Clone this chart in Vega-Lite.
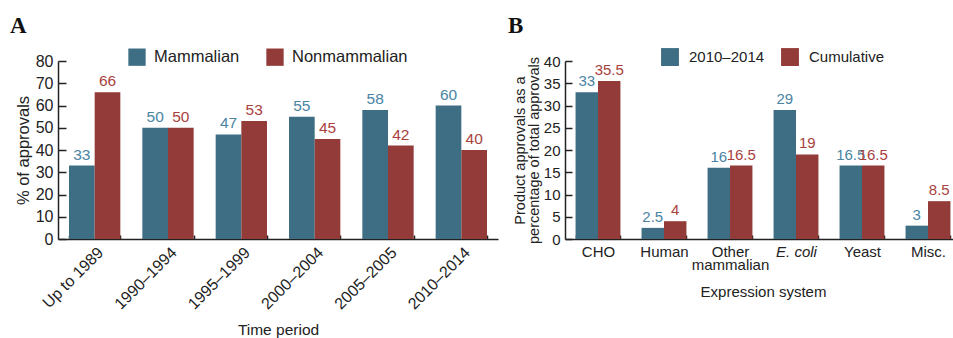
{
  "$schema": "https://vega.github.io/schema/vega-lite/v6.json",
  "background": "white",
  "padding": {"left": 10, "top": 15, "right": 0, "bottom": 0},
  "spacing": 10,
  "config": {
    "font": "Liberation Sans",
    "view": {"stroke": null},
    "axis": {
      "domainColor": "#222",
      "domainWidth": 1.5,
      "tickColor": "#222",
      "tickWidth": 1.5,
      "labelColor": "#222",
      "titleColor": "#222",
      "titleFontWeight": "normal",
      "grid": false
    },
    "legend": {"labelColor": "#222"}
  },
  "resolve": {
    "scale": {"color": "independent", "x": "independent", "y": "independent", "xOffset": "independent"},
    "legend": {"color": "independent"}
  },
  "hconcat": [
    {
      "width": 440,
      "height": 178,
      "title": {
        "text": "A",
        "anchor": "start",
        "frame": "group",
        "dx": -48,
        "offset": 10,
        "font": "Liberation Serif",
        "fontSize": 23,
        "fontWeight": "bold",
        "color": "#111"
      },
      "data": {
        "values": [
          {"period": "Up to 1989", "host": "Mammalian", "pct": 33},
          {"period": "Up to 1989", "host": "Nonmammalian", "pct": 66},
          {"period": "1990–1994", "host": "Mammalian", "pct": 50},
          {"period": "1990–1994", "host": "Nonmammalian", "pct": 50},
          {"period": "1995–1999", "host": "Mammalian", "pct": 47},
          {"period": "1995–1999", "host": "Nonmammalian", "pct": 53},
          {"period": "2000–2004", "host": "Mammalian", "pct": 55},
          {"period": "2000–2004", "host": "Nonmammalian", "pct": 45},
          {"period": "2005–2005", "host": "Mammalian", "pct": 58},
          {"period": "2005–2005", "host": "Nonmammalian", "pct": 42},
          {"period": "2010–2014", "host": "Mammalian", "pct": 60},
          {"period": "2010–2014", "host": "Nonmammalian", "pct": 40}
        ]
      },
      "encoding": {
        "x": {
          "field": "period",
          "type": "nominal",
          "sort": ["Up to 1989", "1990–1994", "1995–1999", "2000–2004", "2005–2005", "2010–2014"],
          "scale": {"paddingInner": 0.3, "paddingOuter": 0.15},
          "axis": {
            "title": "Time period",
            "titleFontSize": 15.5,
            "titlePadding": 11,
            "labelAngle": -45,
            "labelFontSize": 16,
            "labelPadding": 9,
            "tickBand": "extent",
            "tickSize": -4
          }
        },
        "xOffset": {
          "field": "host",
          "type": "nominal",
          "sort": ["Mammalian", "Nonmammalian"],
          "scale": {"paddingInner": 0, "paddingOuter": 0}
        },
        "y": {
          "field": "pct",
          "type": "quantitative",
          "scale": {"domain": [0, 80]},
          "axis": {
            "title": "% of approvals",
            "titleFontSize": 16.5,
            "titlePadding": 4,
            "values": [0, 10, 20, 30, 40, 50, 60, 70, 80],
            "labelFontSize": 16,
            "labelPadding": 13,
            "tickSize": -8
          }
        }
      },
      "layer": [
        {
          "mark": {"type": "bar", "width": {"band": 1}},
          "encoding": {
            "color": {
              "field": "host",
              "type": "nominal",
              "scale": {"domain": ["Mammalian", "Nonmammalian"], "range": ["#3e6e84", "#923b38"]},
              "legend": {
                "title": null,
                "orient": "none",
                "direction": "horizontal",
                "legendX": 70,
                "legendY": -13,
                "symbolType": "square",
                "symbolSize": 300,
                "symbolStrokeWidth": 0,
                "symbolOpacity": 1,
                "labelFontSize": 16.5,
                "labelOffset": 8,
                "columnPadding": 26
              }
            }
          }
        },
        {
          "mark": {"type": "text", "baseline": "bottom", "dy": -3, "fontSize": 15.5},
          "encoding": {
            "text": {"field": "pct", "type": "quantitative"},
            "color": {
              "condition": {"test": "datum.host === 'Mammalian'", "value": "#4a84a3"},
              "value": "#a8423e"
            }
          }
        }
      ]
    },
    {
      "width": 396,
      "height": 178,
      "title": {
        "text": "B",
        "anchor": "start",
        "frame": "group",
        "dx": -57,
        "offset": 10,
        "font": "Liberation Serif",
        "fontSize": 23,
        "fontWeight": "bold",
        "color": "#111"
      },
      "data": {
        "values": [
          {"system": "CHO", "series": "2010–2014", "share": 33},
          {"system": "CHO", "series": "Cumulative", "share": 35.5},
          {"system": "Human", "series": "2010–2014", "share": 2.5},
          {"system": "Human", "series": "Cumulative", "share": 4},
          {"system": "Other mammalian", "series": "2010–2014", "share": 16},
          {"system": "Other mammalian", "series": "Cumulative", "share": 16.5},
          {"system": "E. coli", "series": "2010–2014", "share": 29},
          {"system": "E. coli", "series": "Cumulative", "share": 19},
          {"system": "Yeast", "series": "2010–2014", "share": 16.5},
          {"system": "Yeast", "series": "Cumulative", "share": 16.5},
          {"system": "Misc.", "series": "2010–2014", "share": 3},
          {"system": "Misc.", "series": "Cumulative", "share": 8.5}
        ]
      },
      "encoding": {
        "x": {
          "field": "system",
          "type": "nominal",
          "sort": ["CHO", "Human", "Other mammalian", "E. coli", "Yeast", "Misc."],
          "scale": {"paddingInner": 0.32, "paddingOuter": 0.16},
          "axis": {
            "title": "Expression system",
            "titleFontSize": 15,
            "titlePadding": 12,
            "labelAngle": 0,
            "labelFontSize": 15,
            "labelPadding": 9,
            "labelLineHeight": 13,
            "labelExpr": "datum.value === 'Other mammalian' ? ['Other', 'mammalian'] : datum.value",
            "labelFontStyle": {"condition": {"test": "datum.value === 'E. coli'", "value": "italic"}, "value": "normal"},
            "tickBand": "extent",
            "tickSize": -4
          }
        },
        "xOffset": {
          "field": "series",
          "type": "nominal",
          "sort": ["2010–2014", "Cumulative"],
          "scale": {"paddingInner": 0, "paddingOuter": 0}
        },
        "y": {
          "field": "share",
          "type": "quantitative",
          "scale": {"domain": [0, 40]},
          "axis": {
            "title": ["Product approvals as a", "percentage of total approvals"],
            "titleFontSize": 14.5,
            "titleLineHeight": 14,
            "titlePadding": 2,
            "values": [0, 5, 10, 15, 20, 25, 30, 35, 40],
            "labelFontSize": 15,
            "labelPadding": 12,
            "tickSize": -7
          }
        }
      },
      "layer": [
        {
          "mark": {"type": "bar", "width": {"band": 1}},
          "encoding": {
            "color": {
              "field": "series",
              "type": "nominal",
              "scale": {"domain": ["2010–2014", "Cumulative"], "range": ["#3e6e84", "#923b38"]},
              "legend": {
                "title": null,
                "orient": "none",
                "direction": "horizontal",
                "legendX": 96,
                "legendY": -13,
                "symbolType": "square",
                "symbolSize": 320,
                "symbolStrokeWidth": 0,
                "symbolOpacity": 1,
                "labelFontSize": 15,
                "labelOffset": 10,
                "columnPadding": 16
              }
            }
          }
        },
        {
          "mark": {"type": "text", "baseline": "bottom", "dy": -3, "fontSize": 15},
          "encoding": {
            "text": {"field": "share", "type": "quantitative"},
            "color": {
              "condition": {"test": "datum.series === '2010–2014'", "value": "#4a84a3"},
              "value": "#a8423e"
            }
          }
        }
      ]
    }
  ]
}
